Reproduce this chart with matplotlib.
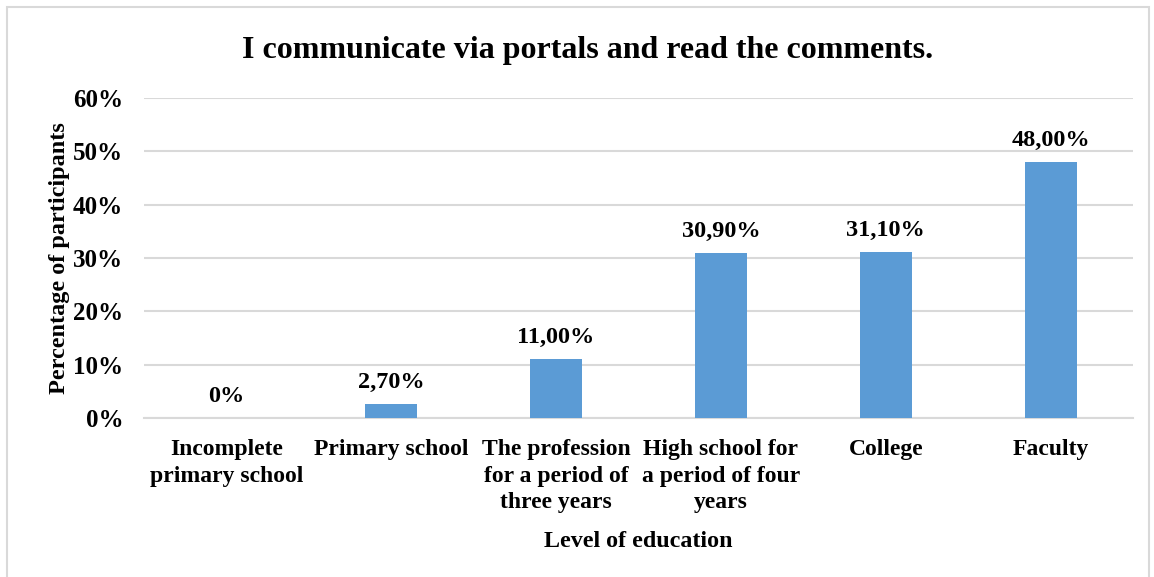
import numpy as np
import matplotlib.pyplot as plt
from matplotlib.ticker import FuncFormatter

categories = ["Incomplete\nprimary school", "Primary school",
              "The profession\nfor a period of\nthree years",
              "High school for\na period of four\nyears",
              "College", "Faculty"]
values = [0.0, 2.7, 11.0, 30.9, 31.1, 48.0]
labels = ["0%", "2,70%", "11,00%", "30,90%", "31,10%", "48,00%"]

plt.rcParams['font.family'] = ['Liberation Serif', 'DejaVu Serif']
plt.rcParams['font.weight'] = 'bold'

fig = plt.figure(figsize=(11.54, 5.77), dpi=100)
ax = fig.add_axes([0.1248, 0.2756, 0.857, 0.5544])

x = np.arange(len(categories))
bars = ax.bar(x, values, width=0.315, color='#5B9BD5', zorder=3)

for xi, v, lab in zip(x, values, labels):
    ax.annotate(lab, (xi, v), xytext=(0, 8), textcoords='offset points',
                ha='center', va='bottom', fontsize=17.5, fontweight='bold')

ax.set_xlim(-0.5, len(categories) - 0.5)
ax.set_ylim(0, 60)
ax.set_yticks(np.arange(0, 61, 10))
ax.yaxis.set_major_formatter(FuncFormatter(lambda v, p: "%d%%" % v))
ax.set_xticks(x)
ax.set_xticklabels(categories, fontsize=17, fontweight='bold', linespacing=1.36)
ax.tick_params(axis='y', labelsize=18, length=0, pad=15)
ax.tick_params(axis='x', length=0, pad=15)

ax.grid(axis='y', color='#D9D9D9', linewidth=1.5, zorder=0)
for s in ['top', 'right', 'left']:
    ax.spines[s].set_visible(False)
ax.spines['bottom'].set_color('#D9D9D9')
ax.spines['bottom'].set_linewidth(1.5)

ax.set_ylabel("Percentage of participants", fontsize=17.5, fontweight='bold', labelpad=2)
ax.set_xlabel("Level of education", fontsize=17.3, fontweight='bold', labelpad=13)
fig.suptitle("I communicate via portals and read the comments.", fontsize=23,
             fontweight='bold', x=0.509, y=0.937)

fig.patches.append(plt.Rectangle((0.006, -0.01), 0.99, 0.998, transform=fig.transFigure,
                                 fill=False, edgecolor='#D9D9D9', linewidth=1.5))

fig.savefig("out.png", dpi=100)
